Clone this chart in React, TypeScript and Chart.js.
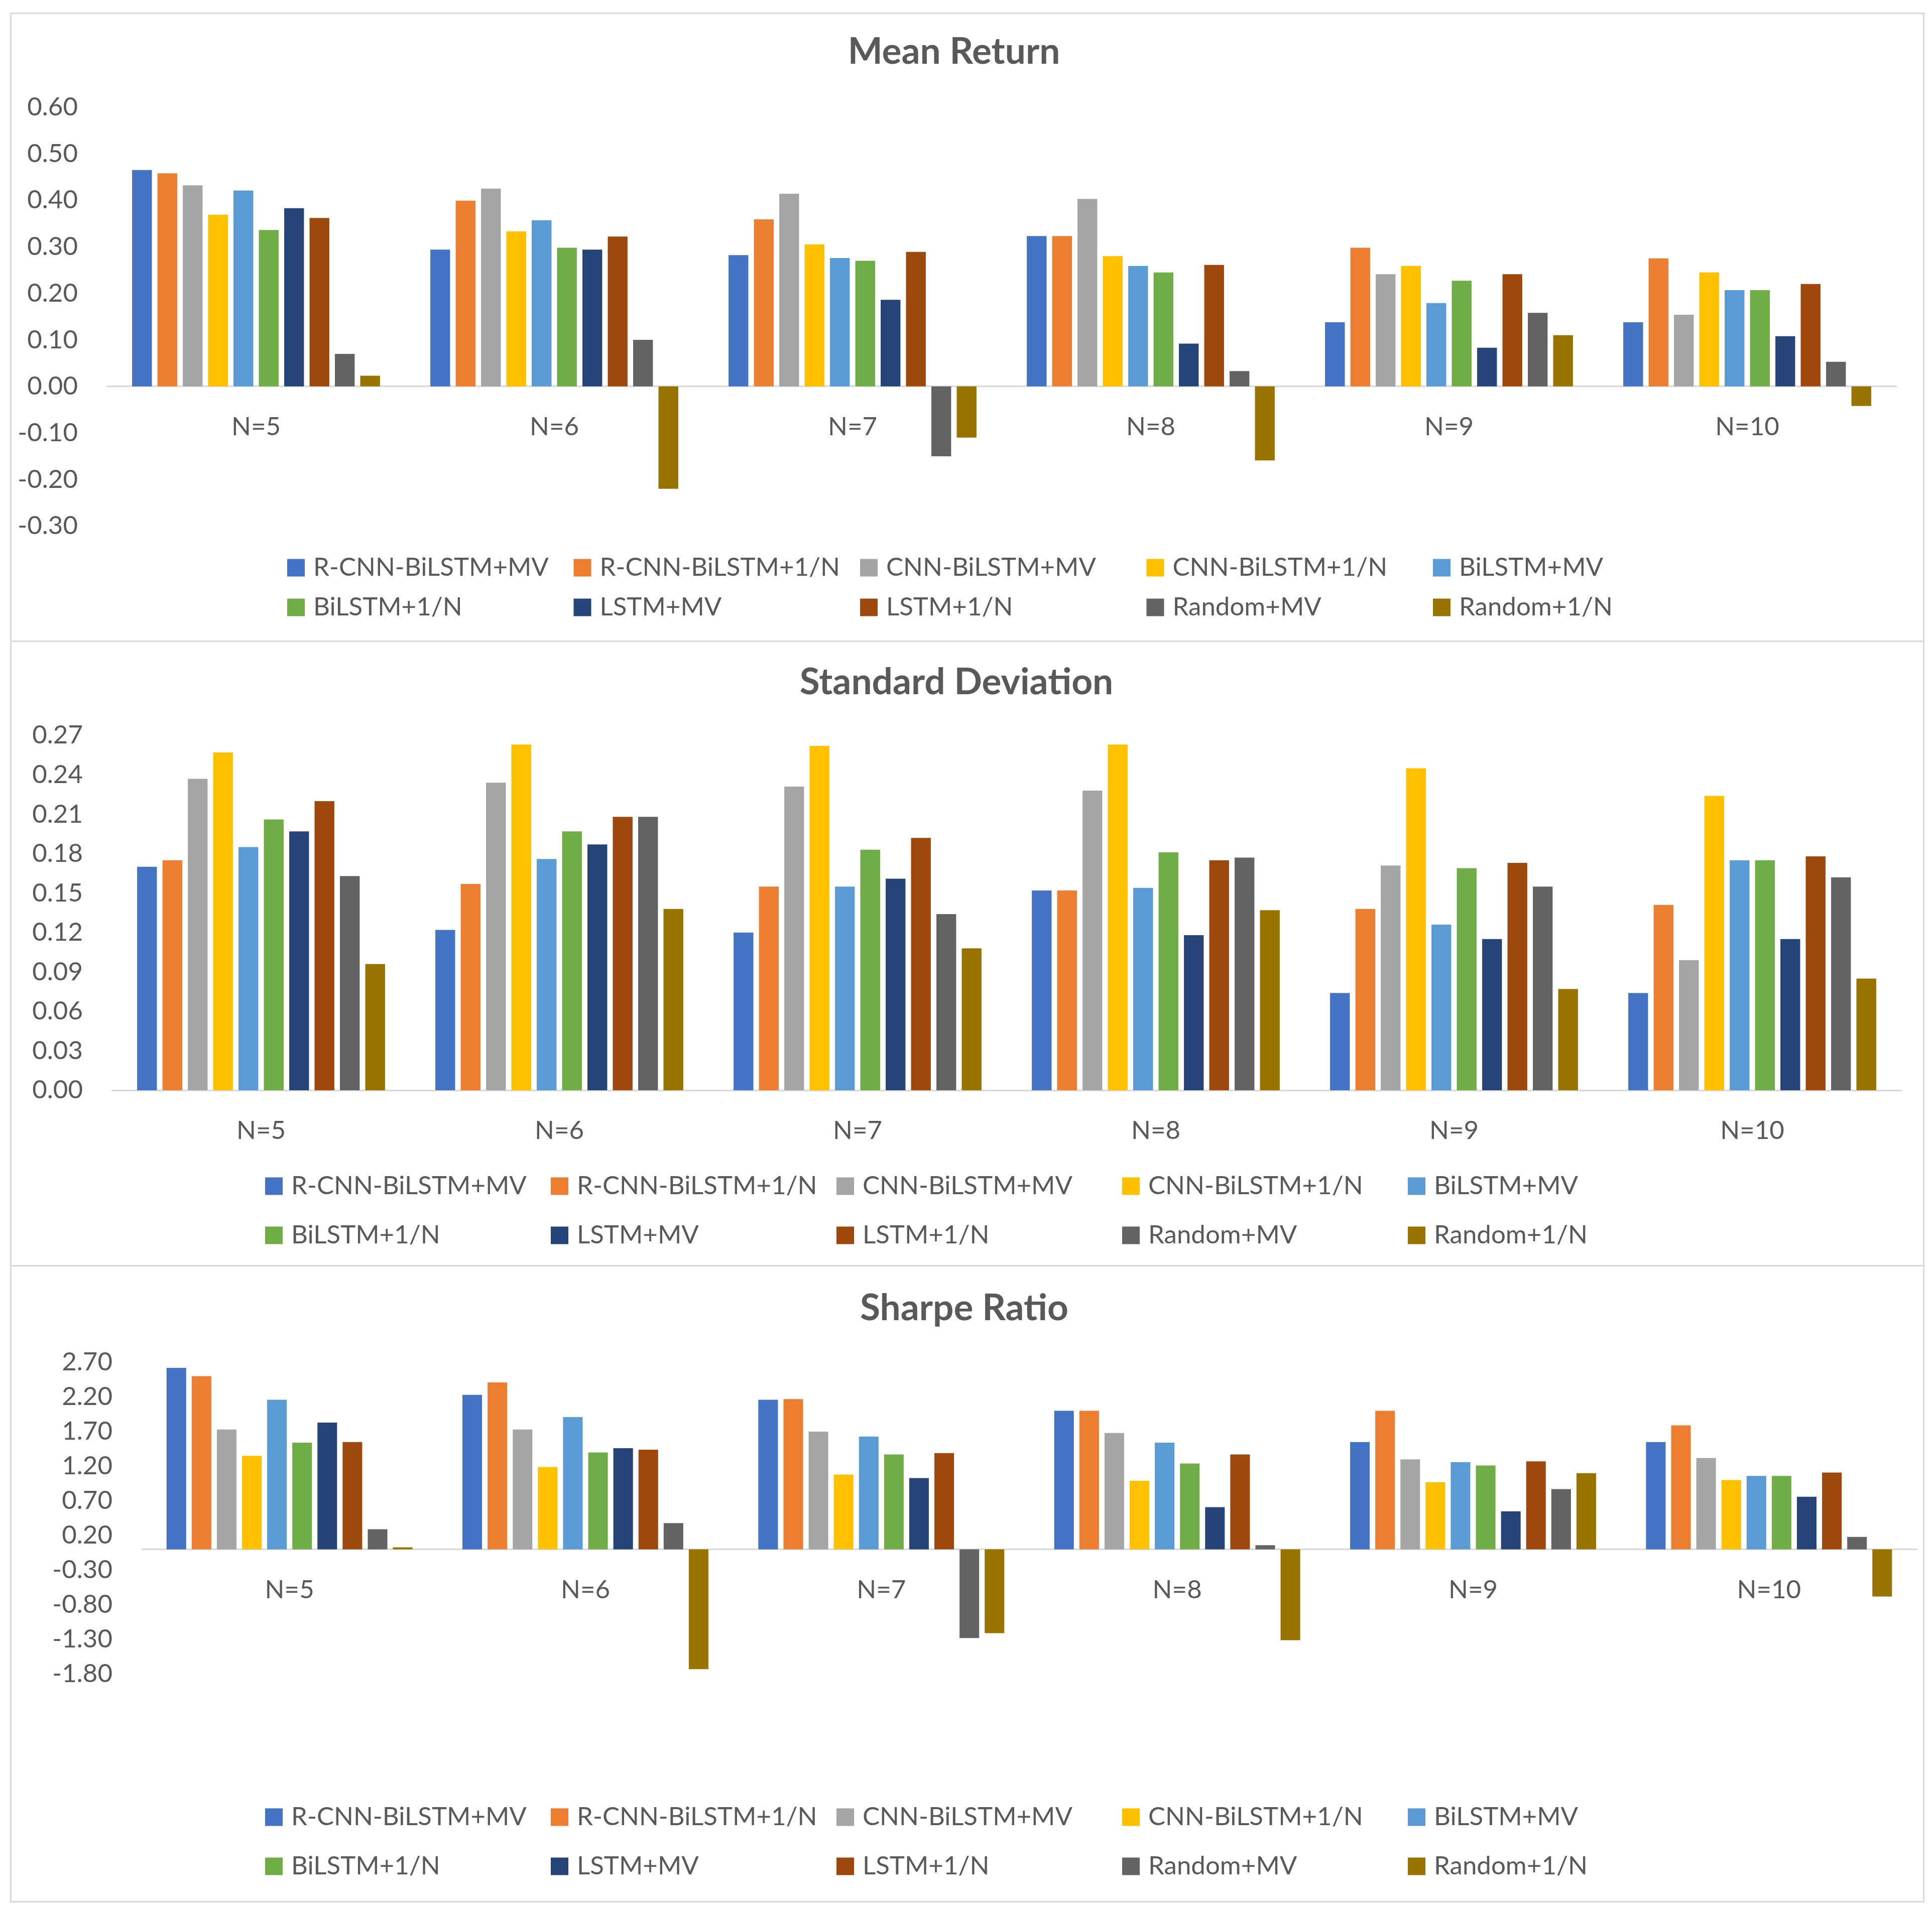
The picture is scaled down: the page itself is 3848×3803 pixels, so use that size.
import React, { useEffect, useRef } from 'react';
import Chart from 'chart.js/auto';

const categories = ['N=5', 'N=6', 'N=7', 'N=8', 'N=9', 'N=10'];

const seriesNames = [
  'R-CNN-BiLSTM+MV',
  'R-CNN-BiLSTM+1/N',
  'CNN-BiLSTM+MV',
  'CNN-BiLSTM+1/N',
  'BiLSTM+MV',
  'BiLSTM+1/N',
  'LSTM+MV',
  'LSTM+1/N',
  'Random+MV',
  'Random+1/N',
];

const seriesColors = [
  '#4472C4', '#ED7D31', '#A5A5A5', '#FFC000', '#5B9BD5',
  '#70AD47', '#264478', '#9E480E', '#636363', '#997300',
];

// one row per series, in seriesNames order
const meanReturn = [
  [0.465, 0.294, 0.282, 0.323, 0.138, 0.138],
  [0.458, 0.399, 0.359, 0.323, 0.298, 0.275],
  [0.432, 0.425, 0.414, 0.403, 0.241, 0.154],
  [0.369, 0.333, 0.305, 0.28, 0.259, 0.245],
  [0.421, 0.357, 0.276, 0.259, 0.179, 0.207],
  [0.336, 0.298, 0.27, 0.245, 0.227, 0.207],
  [0.383, 0.294, 0.186, 0.092, 0.083, 0.108],
  [0.362, 0.322, 0.289, 0.261, 0.241, 0.22],
  [0.07, 0.1, -0.15, 0.033, 0.158, 0.053],
  [0.023, -0.22, -0.11, -0.159, 0.11, -0.042],
];

const stdDev = [
  [0.17, 0.122, 0.12, 0.152, 0.074, 0.074],
  [0.175, 0.157, 0.155, 0.152, 0.138, 0.141],
  [0.237, 0.234, 0.231, 0.228, 0.171, 0.099],
  [0.257, 0.263, 0.262, 0.263, 0.245, 0.224],
  [0.185, 0.176, 0.155, 0.154, 0.126, 0.175],
  [0.206, 0.197, 0.183, 0.181, 0.169, 0.175],
  [0.197, 0.187, 0.161, 0.118, 0.115, 0.115],
  [0.22, 0.208, 0.192, 0.175, 0.173, 0.178],
  [0.163, 0.208, 0.134, 0.177, 0.155, 0.162],
  [0.096, 0.138, 0.108, 0.137, 0.077, 0.085],
];

const sharpeRatio = [
  [2.62, 2.23, 2.16, 2.0, 1.55, 1.55],
  [2.5, 2.41, 2.17, 2.0, 2.0, 1.79],
  [1.73, 1.73, 1.7, 1.68, 1.3, 1.32],
  [1.35, 1.19, 1.08, 0.99, 0.97, 1.0],
  [2.16, 1.91, 1.63, 1.54, 1.26, 1.06],
  [1.54, 1.4, 1.37, 1.24, 1.21, 1.06],
  [1.83, 1.46, 1.03, 0.61, 0.55, 0.76],
  [1.55, 1.44, 1.39, 1.37, 1.27, 1.11],
  [0.29, 0.38, -1.28, 0.06, 0.87, 0.18],
  [0.03, -1.73, -1.21, -1.31, 1.1, -0.68],
];

const TEXT = '#595959';
const FONT = 'Lato, "Open Sans", sans-serif';

// legend drawn as a 5-column grid like the Excel original
const gridLegend = {
  id: 'gridLegend',
  afterDraw(chart: any, _args: any, opts: any) {
    const { ctx } = chart;
    ctx.save();
    ctx.font = `${opts.size}px ${FONT}`;
    ctx.textBaseline = 'middle';
    ctx.textAlign = 'left';
    chart.data.datasets.forEach((ds: any, i: number) => {
      const x = opts.x0 + (i % 5) * opts.dx;
      const y = opts.rows[Math.floor(i / 5)];
      ctx.fillStyle = ds.backgroundColor;
      ctx.fillRect(x, y - opts.box / 2, opts.box, opts.box);
      ctx.fillStyle = TEXT;
      ctx.fillText(ds.label, x + opts.box + opts.gap, y);
    });
    ctx.restore();
  },
};

interface PanelProps {
  title: string;
  values: number[][];
  min: number;
  max: number;
  step: number;
  top: number;
  height: number;
  plotLeft: number;
  padRight: number;
  titleY: number;
  plotTop: number;
  plotBottom: number;
  legendX0: number;
  legendDx: number;
  legendRows: number[];
}

const Panel: React.FC<PanelProps> = (p) => {
  const canvasRef = useRef<HTMLCanvasElement>(null);

  useEffect(() => {
    if (!canvasRef.current) return;
    const canvasH = p.height - 6;
    const titleSize = 73;
    const titleLine = titleSize * 1.2;
    const titlePadTop = p.titleY - titleLine / 2;
    const titlePadBottom = p.plotTop - titlePadTop - titleLine;

    const chart = new Chart(canvasRef.current, {
      type: 'bar',
      data: {
        labels: categories,
        datasets: seriesNames.map((name, i) => ({
          label: name,
          data: p.values[i],
          backgroundColor: seriesColors[i],
          borderWidth: 0,
          categoryPercentage: 0.85,
          barPercentage: 0.78,
        })),
      },
      options: {
        animation: false,
        responsive: true,
        maintainAspectRatio: false,
        layout: {
          padding: { left: 0, top: 0, right: p.padRight, bottom: canvasH - p.plotBottom },
        },
        plugins: {
          legend: { display: false },
          tooltip: { enabled: false },
          title: {
            display: true,
            text: p.title,
            color: TEXT,
            font: { family: FONT, size: titleSize, weight: 'bold', lineHeight: 1.2 },
            padding: { top: titlePadTop, bottom: titlePadBottom },
          },
          gridLegend: {
            x0: p.legendX0,
            dx: p.legendDx,
            rows: p.legendRows,
            size: 51,
            box: 35,
            gap: 17,
          },
        } as any,
        scales: {
          x: {
            type: 'category',
            position: { y: 0 } as any,
            grid: { display: false, drawTicks: false },
            border: { display: true, color: '#D9D9D9', width: 3 },
            ticks: {
              color: TEXT,
              font: { family: FONT, size: 51 },
              padding: 50,
              maxRotation: 0,
            },
          },
          y: {
            min: p.min,
            max: p.max,
            grid: { display: false, drawTicks: false },
            border: { display: false },
            ticks: {
              stepSize: p.step,
              color: TEXT,
              font: { family: FONT, size: 51 },
              padding: 58,
              callback: (v: any) => Number(v).toFixed(2),
            },
            afterFit: (scale: any) => {
              scale.width = p.plotLeft;
            },
          },
        },
      },
      plugins: [gridLegend],
    });

    return () => chart.destroy();
  }, [p]);

  return (
    <div
      style={{
        position: 'absolute',
        left: 20,
        top: p.top,
        width: 3813,
        height: p.height,
        boxSizing: 'border-box',
        border: '3px solid #D9D9D9',
        background: '#fff',
      }}
    >
      <div style={{ position: 'relative', width: 3807, height: p.height - 6 }}>
        <canvas ref={canvasRef} />
      </div>
    </div>
  );
};

const App: React.FC = () => {
  return (
    <div style={{ position: 'absolute', left: 0, top: 0, width: 3848, height: 3803, background: '#fff' }}>
      <Panel
        title="Mean Return"
        values={meanReturn}
        min={-0.3}
        max={0.6}
        step={0.1}
        top={25}
        height={1254}
        plotLeft={190}
        padRight={53}
        titleY={75}
        plotTop={185.5}
        plotBottom={1020}
        legendX0={549}
        legendDx={570.5}
        legendRows={[1103, 1182]}
      />
      <Panel
        title="Standard Deviation"
        values={stdDev}
        min={0}
        max={0.27}
        step={0.03}
        top={1276}
        height={1247}
        plotLeft={200}
        padRight={43}
        titleY={80.5}
        plotTop={186}
        plotBottom={893}
        legendX0={505}
        legendDx={569}
        legendRows={[1084, 1182]}
      />
      <Panel
        title="Sharpe Ratio"
        values={sharpeRatio}
        min={-1.8}
        max={2.7}
        step={0.5}
        top={2520}
        height={1270}
        plotLeft={259}
        padRight={12}
        titleY={83}
        plotTop={191}
        plotBottom={812}
        legendX0={505}
        legendDx={569}
        legendRows={[1097, 1195]}
      />
    </div>
  );
};

export default App;
